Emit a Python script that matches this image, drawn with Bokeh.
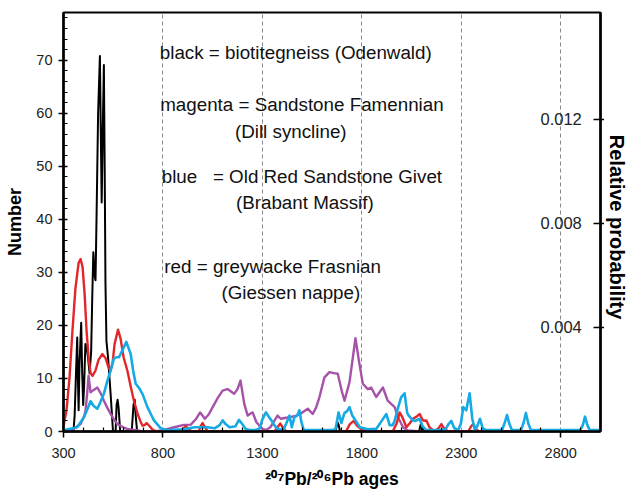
import math
from bokeh.plotting import figure
from bokeh.layouts import row
from bokeh.models import Range1d, LinearAxis, FixedTicker, Label
from bokeh.embed import file_html
from bokeh.resources import INLINE

# ---- data (age in Ma, Number) ----
black_pts = [(300, 0), (350, 0), (356, 3), (362, 10), (369, 17.7), (373, 9), (376, 4), (380, 12),
             (385, 17), (389, 20.5), (394, 11), (399, 5), (404, 9), (410, 16.5), (416, 16), (423, 14),
             (431, 11), (439, 15), (445, 26), (450, 33.8), (454, 31), (458, 29), (461, 28.5), (466, 40),
             (474, 60), (483, 70.8), (487, 58), (492, 43.2), (497, 56), (503, 69.1), (507, 50), (511, 28),
             (516, 17), (524, 14), (537, 7), (549, 0), (562, 0), (567, 5), (572, 6), (577, 4.5), (585, 0),
             (643, 0), (652, 5), (658, 6), (663, 3), (670, 0), (1668, 0), (1675, 1.2), (1679, 1.7),
             (1684, 1.2), (1690, 0), (2088, 0), (2095, 1.2), (2099, 1.6), (2104, 1.0), (2110, 0), (3000, 0)]

red_pts = [(300, 1.0), (315, 4), (330, 10), (345, 19), (360, 27), (376, 31.8), (386, 32.5), (396, 31),
           (406, 26), (416, 19), (426, 14), (436, 11), (446, 10.5), (461, 11.5), (476, 13.5), (495, 14.6),
           (512, 13.8), (527, 12), (537, 11.5), (547, 13), (557, 16.5), (574, 19.2), (587, 17.5), (602, 14),
           (621, 11.5), (638, 8.5), (654, 5.8), (673, 3.3), (688, 1.8), (698, 1.1), (708, 1.2), (718, 1.6),
           (733, 1.0), (749, 0.3), (769, 0), (890, 0), (903, 0.6), (915, 1.0), (928, 0.5), (945, 0),
           (980, 0), (990, 1.0), (999, 1.6), (1010, 0.9), (1025, 0), (1360, 0), (1378, 0.9), (1390, 1.5),
           (1402, 0.8), (1420, 0), (1720, 0), (1740, 1.4), (1759, 2.0), (1778, 1.0), (1800, 0.3), (1850, 0),
           (1955, 0), (1975, 1.5), (1990, 3.6), (2005, 2.6), (2024, 0.8), (2040, 1.5), (2057, 2.4),
           (2075, 2.8), (2091, 3.3), (2105, 2.2), (2115, 2.0), (2124, 2.1), (2140, 0.8), (2165, 0),
           (2185, 0.6), (2200, 1.4), (2215, 0.5), (2235, 0), (2335, 0), (2348, 0.9), (2360, 1.4),
           (2373, 0.5), (2390, 0), (3000, 0)]

magenta_pts = [(300, 0.1), (352, 0.5), (386, 1.4), (405, 3.0), (411, 4.0), (419, 7.2), (426, 10.5),
               (436, 7.4), (450, 7.8), (470, 8.3), (490, 7.0), (503, 5.8), (520, 4.5), (537, 3.3),
               (555, 2.2), (571, 1.4), (600, 0.8), (621, 0.5), (690, 0.1), (760, 0.05), (800, 0.2),
               (856, 0.8), (906, 1.25), (940, 1.3), (965, 2.3), (987, 3.6), (1011, 2.4), (1030, 3.2),
               (1050, 4.6), (1075, 6.3), (1100, 7.7), (1125, 8.0), (1158, 7.1), (1175, 8.0), (1190, 9.6),
               (1209, 5.2), (1226, 3.0), (1240, 3.4), (1251, 3.6), (1270, 1.75), (1300, 0.5), (1318, 0.3),
               (1340, 0.8), (1360, 2.0), (1376, 3.0), (1392, 2.4), (1420, 2.6), (1440, 2.7), (1470, 3.0),
               (1490, 3.3), (1528, 4.3), (1553, 3.3), (1570, 4.5), (1587, 6.5), (1612, 10.2), (1637, 11.2),
               (1660, 11.0), (1679, 10.9), (1700, 7.5), (1713, 5.8), (1738, 9.3), (1755, 14.0), (1768, 17.6),
               (1785, 13.4), (1805, 9.0), (1830, 8.0), (1847, 8.3), (1872, 6.5), (1906, 8.3), (1930, 5.8),
               (1965, 4.6), (1982, 2.7), (2007, 0.8), (2030, 0.2), (2080, 0.05), (2150, 0), (3000, 0)]

blue_pts = [(300, 0.25), (369, 0.8), (403, 2.7), (420, 4.2), (436, 5.7), (452, 4.8), (470, 4.3), (485, 5.5),
            (503, 7.1), (520, 9.5), (537, 11.5), (553, 13.7), (566, 14.0), (579, 14.0), (596, 15.3),
            (616, 16.9), (638, 14.6), (650, 11.5), (663, 9.0), (680, 8.2), (697, 7.1), (722, 4.6),
            (740, 3.2), (755, 2.1), (789, 0.6), (822, 0.25), (850, 0.3), (900, 0.4), (960, 0.8), (1000, 0.8),
            (1024, 0.8), (1060, 0.6), (1085, 1.2), (1100, 2.1), (1115, 1.4), (1135, 0.8), (1165, 1.0),
            (1182, 2.2), (1197, 1.5), (1215, 0.5), (1240, 0.25), (1260, 0.25), (1285, 0.5), (1300, 2.3),
            (1318, 3.6), (1332, 2.8), (1345, 2.1), (1360, 1.2), (1375, 0.5), (1405, 0.3), (1420, 1.5),
            (1436, 3.0), (1448, 0.8), (1461, 2.7), (1475, 3.0), (1486, 4.0), (1496, 1.8), (1508, 0.25),
            (1650, 0.25), (1668, 0.5), (1683, 3.6), (1697, 1.6), (1713, 3.5), (1725, 3.8), (1738, 4.6),
            (1752, 3.0), (1768, 2.1), (1790, 0.8), (1830, 0.4), (1873, 0.5), (1900, 2.0), (1923, 3.3),
            (1940, 1.2), (1955, 1.2), (1965, 2.0), (1982, 4.5), (1998, 6.5), (2015, 7.2), (2028, 3.5),
            (2036, 3.0), (2057, 2.1), (2070, 2.0), (2090, 2.4), (2105, 1.0), (2124, 0.25), (2180, 0.25),
            (2220, 0.4), (2238, 1.5), (2250, 2.0), (2265, 0.6), (2285, 0.3), (2298, 1.5), (2310, 4.6),
            (2325, 4.0), (2342, 7.2), (2355, 2.5), (2368, 0.3), (2380, 1.0), (2394, 2.4), (2408, 0.6),
            (2425, 0.25), (2505, 0.25), (2518, 1.6), (2530, 3.1), (2542, 1.4), (2555, 0.25), (2600, 0.25),
            (2613, 1.6), (2625, 3.5), (2637, 1.5), (2650, 0.25), (2898, 0.25), (2911, 1.2), (2922, 2.8),
            (2934, 1.2), (2946, 0.25), (3000, 0.25)]

x_ticks = [300, 800, 1300, 1800, 2300, 2800]
x_minor = [400, 500, 600, 700, 900, 1000, 1100, 1200, 1400, 1500, 1600, 1700, 1900, 2000, 2100, 2200,
           2400, 2500, 2600, 2700, 2900]
y_ticks = [0, 10, 20, 30, 40, 50, 60, 70]
y_minor = [2, 4, 6, 8, 12, 14, 16, 18, 22, 24, 26, 28, 32, 34, 36, 38, 42, 44, 46, 48, 52, 54, 56, 58,
           62, 64, 66, 68, 72, 74, 76, 78]
prob_ticks = [0.004, 0.008, 0.012]

notes = [
    (784, 71.4, "black = biotitegneiss (Odenwald)"),
    (786, 61.7, "magenta = Sandstone Famennian"),
    (1162, 56.6, "(Dill syncline)"),
    (794, 48.0, "blue\u00a0\u00a0\u00a0= Old Red Sandstone Givet"),
    (1167, 43.1, "(Brabant Massif)"),
    (807, 31.1, "red = greywacke Frasnian"),
    (1094, 26.3, "(Giessen nappe)"),
]

FONT = "Liberation Sans"

p = figure(width=604, height=495, output_backend="svg", toolbar_location=None,
           x_range=Range1d(300, 3000), y_range=Range1d(0, 79),
           min_border_left=63, min_border_right=4, min_border_top=12, min_border_bottom=64,
           background_fill_color="white", border_fill_color="white")
p.extra_y_ranges = {"prob": Range1d(0, 0.0161)}

p.outline_line_color = "black"
p.outline_line_width = 2
p.outline_line_alpha = 1

# x axis
xa = p.xaxis[0]
xa.ticker = FixedTicker(ticks=x_ticks, minor_ticks=x_minor)
xa.axis_label = "\u00b2\u2070\u2077Pb/\u00b2\u2070\u2076Pb ages"
for ax in (p.xaxis[0], p.yaxis[0]):
    ax.axis_line_width = 2.5
    ax.axis_line_color = "black"
    ax.major_tick_line_width = 1.5
    ax.minor_tick_line_width = 1.2
    ax.major_label_text_font = FONT
    ax.major_label_text_font_size = "14.5px"
    ax.major_label_text_color = "#222222"
    ax.axis_label_text_font = FONT
    ax.axis_label_text_font_style = "bold"
    ax.axis_label_text_font_size = "18px"
    ax.axis_label_text_color = "black"
xa.axis_label_text_font_size = "17.5px"
xa.major_tick_out = 6
xa.major_tick_in = 0
xa.minor_tick_in = 4
xa.minor_tick_out = 0
xa.major_label_standoff = 10
xa.axis_label_standoff = 8

ya = p.yaxis[0]
ya.ticker = FixedTicker(ticks=y_ticks, minor_ticks=y_minor)
ya.axis_label = "Number"
ya.major_tick_out = 5
ya.major_tick_in = 4
ya.minor_tick_in = 4
ya.minor_tick_out = 0
ya.major_label_standoff = 6
ya.axis_label_standoff = 8

ra = LinearAxis(y_range_name="prob", ticker=FixedTicker(ticks=prob_ticks))
ra.axis_line_width = 2.5
ra.axis_line_color = "black"
ra.major_tick_line_width = 1.6
ra.major_tick_line_color = "black"
ra.major_tick_out = 4
ra.major_tick_in = 7
ra.minor_tick_in = 0
ra.minor_tick_out = 0
ra.major_label_text_font = FONT
ra.major_label_text_font_size = "16.5px"
ra.major_label_text_color = "#222222"
ra.major_label_standoff = -64
p.add_layout(ra, "right")

p.xgrid.grid_line_color = "#8a8a8a"
p.xgrid.grid_line_dash = "4 3"
p.xgrid.grid_line_width = 1
p.ygrid.visible = False

series = [
    (black_pts, "black", 2.0),
    (magenta_pts, "#a652a8", 2.4),
    (red_pts, "#e3262b", 2.4),
    (blue_pts, "#16aae4", 2.6),
]
for pts, col, lw in series:
    xs = [a for a, _ in pts]
    ys = [n for _, n in pts]
    p.line(xs, ys, line_color=col, line_width=lw, line_join="round")

for x, y, t in notes:
    p.add_layout(Label(x=x, y=y, text=t, text_font=FONT, text_font_size="18.8px",
                       text_color="#111111", text_align="left", text_baseline="alphabetic"))

# narrow strip on the right that carries the right-hand axis title
side = figure(width=23, height=495, output_backend="svg", toolbar_location=None,
              x_range=Range1d(0, 1), y_range=Range1d(0, 1), x_axis_type=None, y_axis_type=None,
              min_border=0, background_fill_color="white", border_fill_color="white")
side.outline_line_color = None
side.add_layout(Label(x=0.56, y=0.488, text="Relative probability", angle=-math.pi / 2,
                      text_font=FONT, text_font_style="bold", text_font_size="20px",
                      text_color="black", text_align="center", text_baseline="middle"))

layout = row(p, side, spacing=0)
open("out.html", "w").write(file_html(layout, INLINE))
